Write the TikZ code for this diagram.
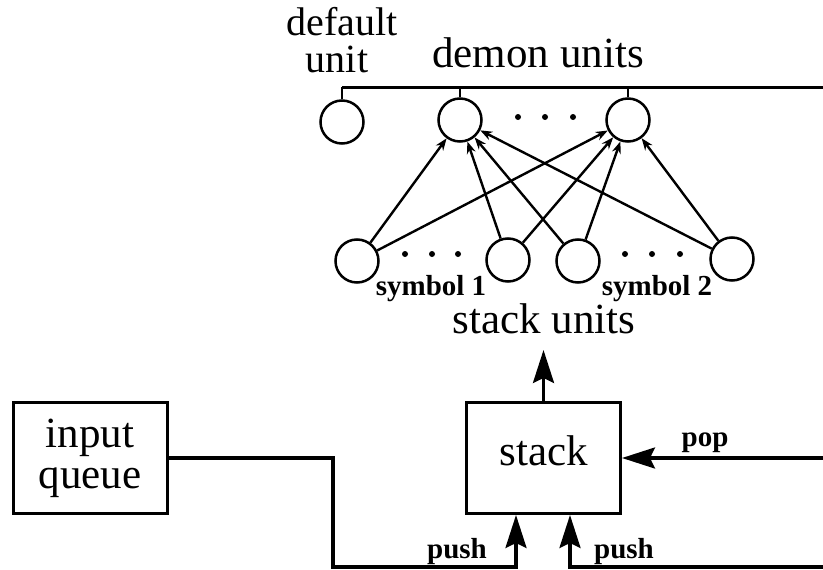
\documentclass[tikz,border=0pt]{standalone}
\usepackage{fontspec}
\setmainfont{Liberation Serif}
\usetikzlibrary{arrows.meta}
\begin{document}
\begin{tikzpicture}[x=1pt,y=-1pt,
  unit/.style={circle, draw, line width=2.5pt, minimum size=43pt, inner sep=0pt},
  box/.style={draw, line width=3pt, minimum width=154pt, minimum height=111pt, inner sep=0pt},
  big/.style={font=\fontsize{43}{43}\selectfont, inner sep=0pt},
  deflabel/.style={font=\fontsize{40}{40}\selectfont, inner sep=0pt},
  small/.style={font=\fontsize{29}{29}\selectfont\bfseries, inner sep=0pt},
  link/.style={line width=2.4pt, -{Stealth[length=12pt,width=9pt]}},
  wire/.style={line width=3.2pt},
  bigarrow/.style={wire, -{Stealth[length=33pt,width=21pt,inset=5pt]}},
  dot/.style={circle, fill, inner sep=0pt, minimum size=6pt}
]
\useasboundingbox (0,0) rectangle (823,570);

% demon level
\node[unit] (def) at (342,122) {};
\node[unit] (d1) at (460,120) {};
\node[unit] (d2) at (628,120) {};
\coordinate (busL) at (342,87);
\coordinate (busR) at (823,87);
\draw[line width=3pt] (busL) -- (busR);
\draw[line width=2.6pt] (def.north) -- (def.north |- busL);
\draw[line width=2.6pt] (d1.north) -- (d1.north |- busL);
\draw[line width=2.6pt] (d2.north) -- (d2.north |- busL);
\node[dot] (t1) at (518,117) {};
\node[dot] (t2) at (545,117) {};
\node[dot] (t3) at (573,117) {};

\node[deflabel, anchor=base] (deflab1) at (342,35) {default};
\node[deflabel, anchor=base] (deflab2) at (337,72) {unit};
\node[big, anchor=base] (demlab) at (538,67) {demon units};

% stack units level
\node[unit] (s1) at (357,261) {};
\node[unit] (s2) at (508,260) {};
\node[unit] (s3) at (578,261) {};
\node[unit] (s4) at (732,259) {};
\node[dot] (b1) at (405,254) {};
\node[dot] (b2) at (432,254) {};
\node[dot] (b3) at (458,254) {};
\node[dot] (b4) at (625,254) {};
\node[dot] (b5) at (652,254) {};
\node[dot] (b6) at (680,254) {};

\foreach \s in {s1,s2,s3,s4}{
  \draw[link] (\s) -- (d1);
  \draw[link] (\s) -- (d2);
}

\node[small, anchor=base] (sym1) at (431,295) {symbol 1};
\node[small, anchor=base] (sym2) at (657,295) {symbol 2};
\node[big, anchor=base] (sulab) at (544,333) {stack units};

% boxes
\node[box, big, inner sep=0pt, text depth=14pt] (st) at (543.5,458) {stack};
\node[box, big, inner sep=0pt, align=center, font=\fontsize{43}{41}\selectfont] (iq) at (90,458) {input\\queue};

% connectors
\coordinate (upTip) at (543.5,350);
\draw[bigarrow] (st.north) -- (upTip);

\coordinate (popR) at (823,458);
\draw[bigarrow] (popR) -- (st.east);
\node[small, anchor=base] (poplab) at (705,446) {pop};

\coordinate (c1) at (333,567);
\coordinate (pushL) at (516,567);
\draw[bigarrow] (iq.east) -| (c1) -- (pushL) -- (pushL |- st.south);
\node[small, anchor=base] (pushlab1) at (457,558) {push};

\coordinate (rightB) at (823,567);
\coordinate (pushR) at (570,567);
\draw[bigarrow] (rightB) -- (pushR) -- (pushR |- st.south);
\node[small, anchor=base] (pushlab2) at (624,558) {push};
\end{tikzpicture}
\end{document}
